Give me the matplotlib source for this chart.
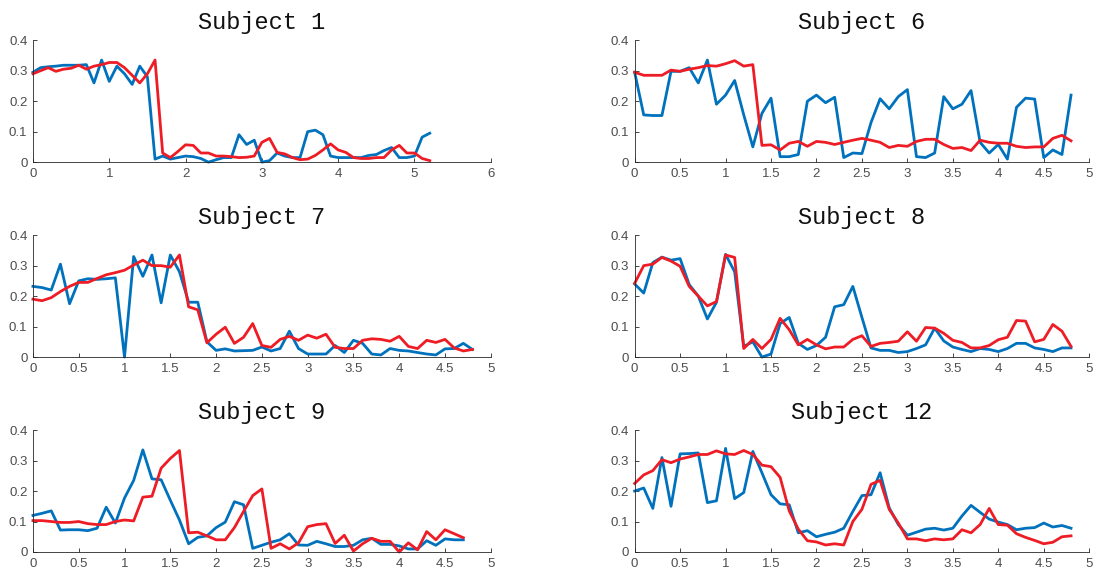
#!/usr/bin/env python3
"""Six subject panels, blue vs red trace, MATLAB-like look."""

import matplotlib

matplotlib.use("Agg")
import matplotlib.pyplot as plt
import numpy as np

# Subject names shown in the panel titles
subjects = ["Subject 1", "Subject 6", "Subject 7", "Subject 8", "Subject 9", "Subject 12"]

# x axis upper limits per panel
x_limits = [6, 5, 5, 5, 5, 5]

# Subject 1 (0 .. 5.2, step 0.1)
s1_blue = [0.295, 0.31, 0.313, 0.315, 0.318, 0.318, 0.318, 0.32, 0.26, 0.335,
           0.265, 0.315, 0.29, 0.255, 0.315, 0.28, 0.01, 0.02, 0.01, 0.015,
           0.02, 0.018, 0.012, 0.0, 0.008, 0.015, 0.015, 0.09, 0.058, 0.072,
           0.0, 0.005, 0.03, 0.02, 0.015, 0.015, 0.1, 0.105, 0.09, 0.02,
           0.015, 0.015, 0.015, 0.015, 0.022, 0.025, 0.038, 0.048, 0.015, 0.015,
           0.02, 0.082, 0.095]
s1_red = [0.29, 0.3, 0.31, 0.298, 0.305, 0.308, 0.318, 0.305, 0.315, 0.32,
          0.327, 0.327, 0.31, 0.285, 0.26, 0.29, 0.335, 0.03, 0.015, 0.035,
          0.057, 0.055, 0.03, 0.03, 0.02, 0.02, 0.018, 0.015, 0.016, 0.02,
          0.065, 0.078, 0.032, 0.027, 0.015, 0.008, 0.01, 0.022, 0.04, 0.06,
          0.04, 0.032, 0.015, 0.012, 0.012, 0.015, 0.015, 0.04, 0.055, 0.03,
          0.03, 0.012, 0.005]

# Subject 6 (0 .. 4.8)
s6_blue = [0.295, 0.155, 0.153, 0.153, 0.298, 0.298, 0.31, 0.26, 0.335, 0.19,
           0.22, 0.268, 0.155, 0.05, 0.16, 0.21, 0.018, 0.018, 0.025, 0.2,
           0.22, 0.195, 0.213, 0.015, 0.03, 0.028, 0.13, 0.208, 0.175, 0.215,
           0.238, 0.018, 0.015, 0.03, 0.215, 0.175, 0.19, 0.235, 0.065, 0.03,
           0.058, 0.01, 0.18, 0.21, 0.207, 0.015, 0.04, 0.025, 0.22]
s6_red = [0.295, 0.285, 0.285, 0.285, 0.302, 0.298, 0.305, 0.31, 0.317, 0.315,
          0.323, 0.333, 0.315, 0.32, 0.055, 0.057, 0.04, 0.062, 0.068, 0.052,
          0.068, 0.065, 0.058, 0.065, 0.072, 0.078, 0.072, 0.065, 0.048, 0.055,
          0.052, 0.068, 0.075, 0.075, 0.058, 0.045, 0.048, 0.038, 0.072, 0.065,
          0.062, 0.062, 0.052, 0.048, 0.05, 0.05, 0.078, 0.088, 0.07]

# Subject 7 (0 .. 4.8)
s7_blue = [0.232, 0.228, 0.22, 0.305, 0.175, 0.25, 0.257, 0.255, 0.257, 0.26,
           0.0, 0.33, 0.265, 0.335, 0.178, 0.335, 0.28, 0.18, 0.18, 0.05,
           0.022, 0.027, 0.02, 0.021, 0.022, 0.033, 0.02, 0.028, 0.085, 0.028,
           0.01, 0.01, 0.01, 0.038, 0.015, 0.055, 0.045, 0.01, 0.007, 0.028,
           0.022, 0.02, 0.015, 0.01, 0.007, 0.027, 0.028, 0.045, 0.025]
s7_red = [0.19, 0.185, 0.195, 0.215, 0.232, 0.245, 0.245, 0.258, 0.27, 0.277,
          0.285, 0.302, 0.318, 0.3, 0.3, 0.295, 0.335, 0.165, 0.155, 0.047,
          0.075, 0.098, 0.045, 0.065, 0.11, 0.038, 0.032, 0.058, 0.068, 0.055,
          0.072, 0.062, 0.075, 0.032, 0.028, 0.028, 0.055, 0.06, 0.058, 0.052,
          0.068, 0.035, 0.028, 0.055, 0.048, 0.058, 0.03, 0.02, 0.025]

# Subject 8 (0 .. 4.8)
s8_blue = [0.24, 0.21, 0.31, 0.328, 0.318, 0.323, 0.238, 0.2, 0.125, 0.18,
           0.337, 0.28, 0.035, 0.05, 0.0, 0.01, 0.11, 0.13, 0.045, 0.025,
           0.038, 0.065, 0.165, 0.172, 0.232, 0.13, 0.03, 0.022, 0.022, 0.015,
           0.018, 0.028, 0.04, 0.095, 0.053, 0.033, 0.025, 0.018, 0.028, 0.025,
           0.018, 0.028, 0.045, 0.045, 0.03, 0.025, 0.018, 0.03, 0.03]
s8_red = [0.242, 0.3, 0.305, 0.327, 0.315, 0.298, 0.232, 0.2, 0.168, 0.182,
          0.335, 0.327, 0.028, 0.058, 0.028, 0.058, 0.127, 0.09, 0.04, 0.058,
          0.04, 0.027, 0.033, 0.033, 0.058, 0.07, 0.035, 0.045, 0.048, 0.052,
          0.083, 0.052, 0.097, 0.095, 0.078, 0.055, 0.048, 0.03, 0.03, 0.038,
          0.057, 0.065, 0.12, 0.118, 0.05, 0.058, 0.107, 0.085, 0.035]

# Subject 9 (0 .. 4.7)
s9_blue = [0.12, 0.127, 0.135, 0.072, 0.073, 0.073, 0.07, 0.078, 0.147, 0.095,
           0.177, 0.235, 0.335, 0.24, 0.237, 0.17, 0.105, 0.027, 0.048, 0.053,
           0.08, 0.098, 0.165, 0.155, 0.012, 0.022, 0.032, 0.04, 0.06, 0.023,
           0.022, 0.035, 0.027, 0.018, 0.018, 0.022, 0.04, 0.045, 0.025, 0.025,
           0.02, 0.01, 0.01, 0.037, 0.022, 0.043, 0.04, 0.04]
s9_red = [0.103, 0.103, 0.1, 0.097, 0.097, 0.1, 0.093, 0.09, 0.09, 0.1,
          0.105, 0.102, 0.18, 0.183, 0.275, 0.307, 0.333, 0.063, 0.065, 0.053,
          0.04, 0.04, 0.08, 0.133, 0.185, 0.207, 0.012, 0.027, 0.01, 0.03,
          0.083, 0.09, 0.093, 0.028, 0.055, 0.003, 0.027, 0.045, 0.035, 0.035,
          0.0, 0.03, 0.007, 0.067, 0.04, 0.073, 0.06, 0.047]

# Subject 12 (0 .. 4.8)
s12_blue = [0.2, 0.21, 0.143, 0.31, 0.15, 0.322, 0.323, 0.325, 0.162, 0.168,
            0.34, 0.175, 0.195, 0.33, 0.26, 0.188, 0.158, 0.155, 0.063, 0.07,
            0.05, 0.058, 0.065, 0.078, 0.133, 0.185, 0.188, 0.26, 0.145, 0.09,
            0.055, 0.065, 0.075, 0.078, 0.072, 0.078, 0.118, 0.153, 0.13, 0.108,
            0.098, 0.09, 0.073, 0.078, 0.08, 0.095, 0.082, 0.087, 0.078]
s12_red = [0.225, 0.253, 0.267, 0.303, 0.293, 0.305, 0.312, 0.32, 0.32, 0.332,
           0.322, 0.32, 0.333, 0.32, 0.285, 0.28, 0.245, 0.135, 0.075, 0.037,
           0.033, 0.023, 0.027, 0.023, 0.1, 0.14, 0.222, 0.235, 0.14, 0.095,
           0.043, 0.043, 0.037, 0.043, 0.04, 0.043, 0.073, 0.063, 0.09, 0.143,
           0.09, 0.088, 0.06, 0.048, 0.038, 0.027, 0.032, 0.05, 0.053]

blue_series = [s1_blue, s6_blue, s7_blue, s8_blue, s9_blue, s12_blue]
red_series = [s1_red, s6_red, s7_red, s8_red, s9_red, s12_red]

BLUE = "#0072BD"
RED = "#EE1C25"
AXIS_GREY = "#262626"
TICK_GREY = "#4D4D4D"

# Axes boxes in figure fractions: left, bottom, width, height
col_left = [0.030, 0.578]
col_width = [0.417, 0.414]
row_bottom = [0.718, 0.379, 0.040]
row_height = 0.212


def style_axis(ax, xmax):
    """MATLAB-like axis with box off and inward ticks."""
    ax.set_xlim(0, xmax)
    ax.set_ylim(0, 0.4)
    ax.set_yticks([0, 0.1, 0.2, 0.3, 0.4])
    ax.set_yticklabels(["0", "0.1", "0.2", "0.3", "0.4"])
    if xmax == 6:
        ax.set_xticks(np.arange(0, 7, 1))
        ax.set_xticklabels([str(v) for v in range(7)])
    else:
        ticks = np.arange(0, 5.01, 0.5)
        ax.set_xticks(ticks)
        ax.set_xticklabels(["%g" % t for t in ticks])
    for side in ("top", "right"):
        ax.spines[side].set_visible(False)
    for side in ("left", "bottom"):
        ax.spines[side].set_color(AXIS_GREY)
        ax.spines[side].set_linewidth(0.6)
    ax.tick_params(direction="in", length=3, width=0.6, color=AXIS_GREY,
                   labelcolor=TICK_GREY, labelsize=9.5, pad=4)
    for lbl in ax.get_xticklabels() + ax.get_yticklabels():
        lbl.set_fontfamily("Liberation Sans")


def main():
    fig = plt.figure(figsize=(10.98, 5.75), dpi=100)

    for i, name in enumerate(subjects):
        row, col = divmod(i, 2)
        ax = fig.add_axes([col_left[col], row_bottom[row], col_width[col], row_height])
        blue = blue_series[i]
        red = red_series[i]
        x = np.arange(len(blue)) / 10.0
        ax.plot(x, blue, color=BLUE, linewidth=2.0, clip_on=False)
        ax.plot(x, red, color=RED, linewidth=2.0, clip_on=False)
        style_axis(ax, x_limits[i])
        ax.set_title(name, fontfamily="Liberation Mono", fontsize=17,
                     color="#111111", pad=8)

    fig.savefig("out.png", dpi=100)


if __name__ == "__main__":
    main()
